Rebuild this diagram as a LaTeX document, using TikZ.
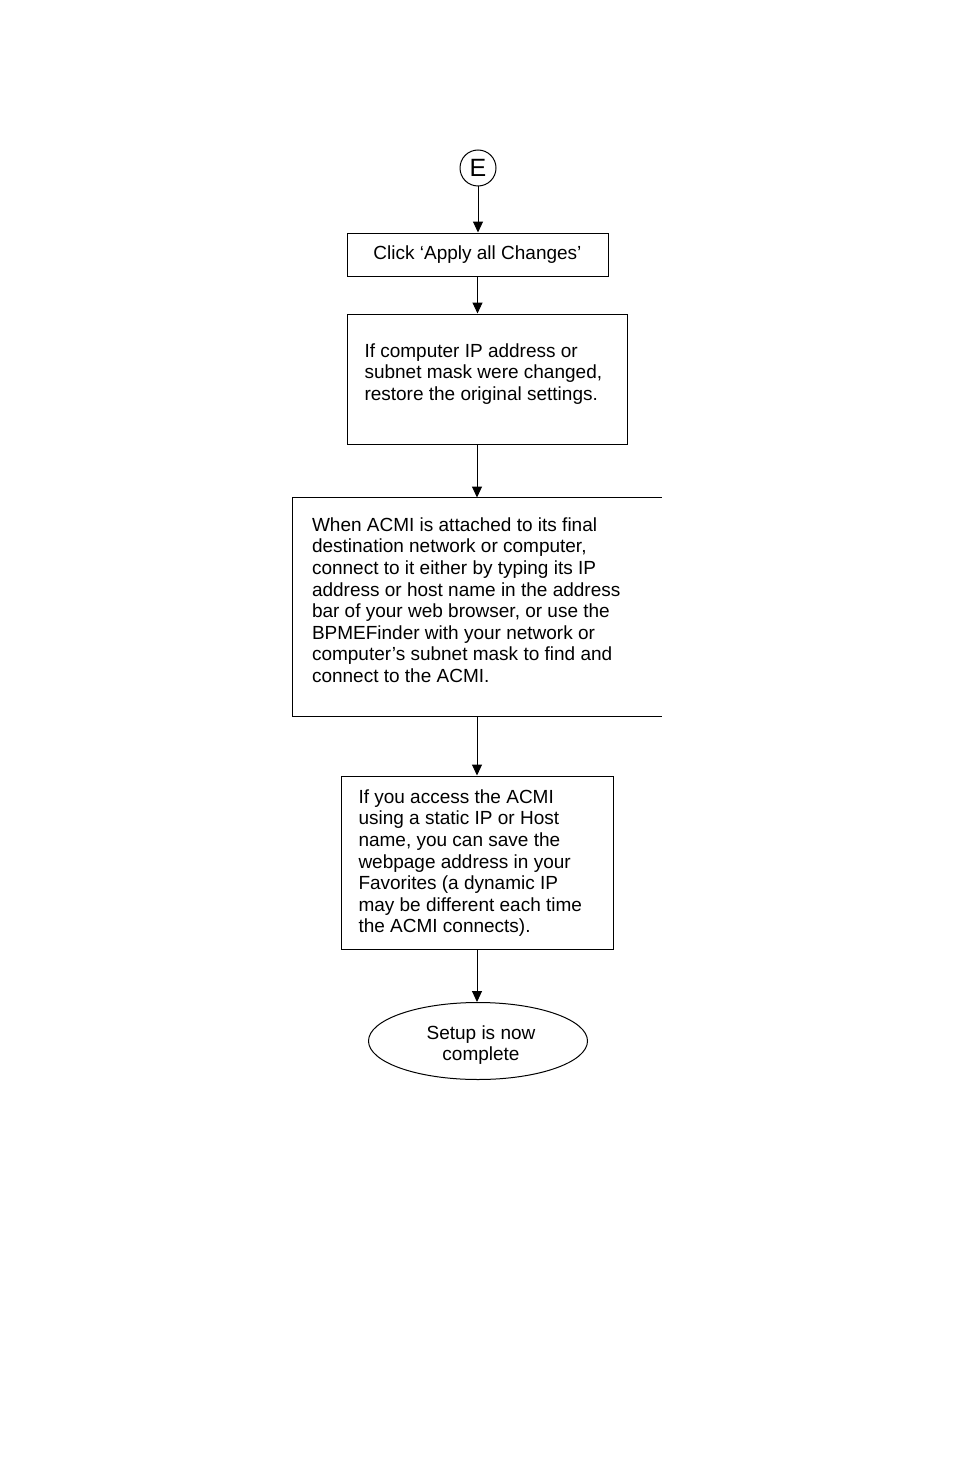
\documentclass[tikz,border=0pt]{standalone}
\usepackage{fontspec}
\setmainfont{Liberation Sans}
\usetikzlibrary{shapes.geometric,arrows.meta,positioning}

\begin{document}
\begin{tikzpicture}[x=1pt, y=-1pt, line width=1pt,
        every node/.style={font=\fontsize{19}{21.6}\selectfont, inner sep=0pt},
        box/.style={draw, rectangle},
        body/.style={align=left, anchor=north west},
        flow/.style={-{Triangle[width=10pt,length=11pt]}}]
        \useasboundingbox (0,0) rectangle (954,1474);

        % Start
        \node[draw, circle, minimum size=36pt, font=\fontsize{25}{28}\selectfont] (start) at (478,168) {E};

        % Apply changes
        \node[box, minimum width=261pt, minimum height=43pt] (apply) at (477.5,254.5) {Click `Apply all Changes'};
        \draw[flow] (start) -- (start |- apply.north);

        % Restore settings
        \node[box, minimum width=280pt, minimum height=130pt] (restore) at (487,379) {};
        \node[body] (restoretxt) at (364,343) {If computer IP address or\\subnet mask were changed,\\restore the original settings.};
        \draw[flow] (apply.south) -- (apply.south |- restore.north);

        % Connect to the ACMI
        \node[minimum width=368pt, minimum height=218pt] (find) at (477,607) {};
        \draw (find.north east) -- (find.north west) -- (find.south west) -- (find.south east);
        \node[body] (findtxt) at (311.5,517) {When ACMI is attached to its final\\destination network or computer,\\connect to it either by typing its IP\\address or host name in the address\\bar of your web browser, or use the\\BPMEFinder with your network or\\computer's subnet mask to find and\\connect to the ACMI.};
        \draw[flow] (find |- restore.south) -- (find.north);

        % Save address
        \node[box, minimum width=272pt, minimum height=173pt] (save) at (477,862.5) {};
        \node[body] (savetxt) at (358,789) {If you access the ACMI\\using a static IP or Host\\name, you can save the\\webpage address in your\\Favorites (a dynamic IP\\may be different each time\\the ACMI connects).};
        \draw[flow] (find.south) -- (save.north);

        % End
        \node[draw, ellipse, minimum width=219pt, minimum height=77pt] (done) at (478,1041) {};
        \node[align=center] (donetxt) at (481,1045) {Setup is now\\complete};
        \draw[flow] (save.south) -- (save.south |- done.north);
    \end{tikzpicture}
\end{document}
